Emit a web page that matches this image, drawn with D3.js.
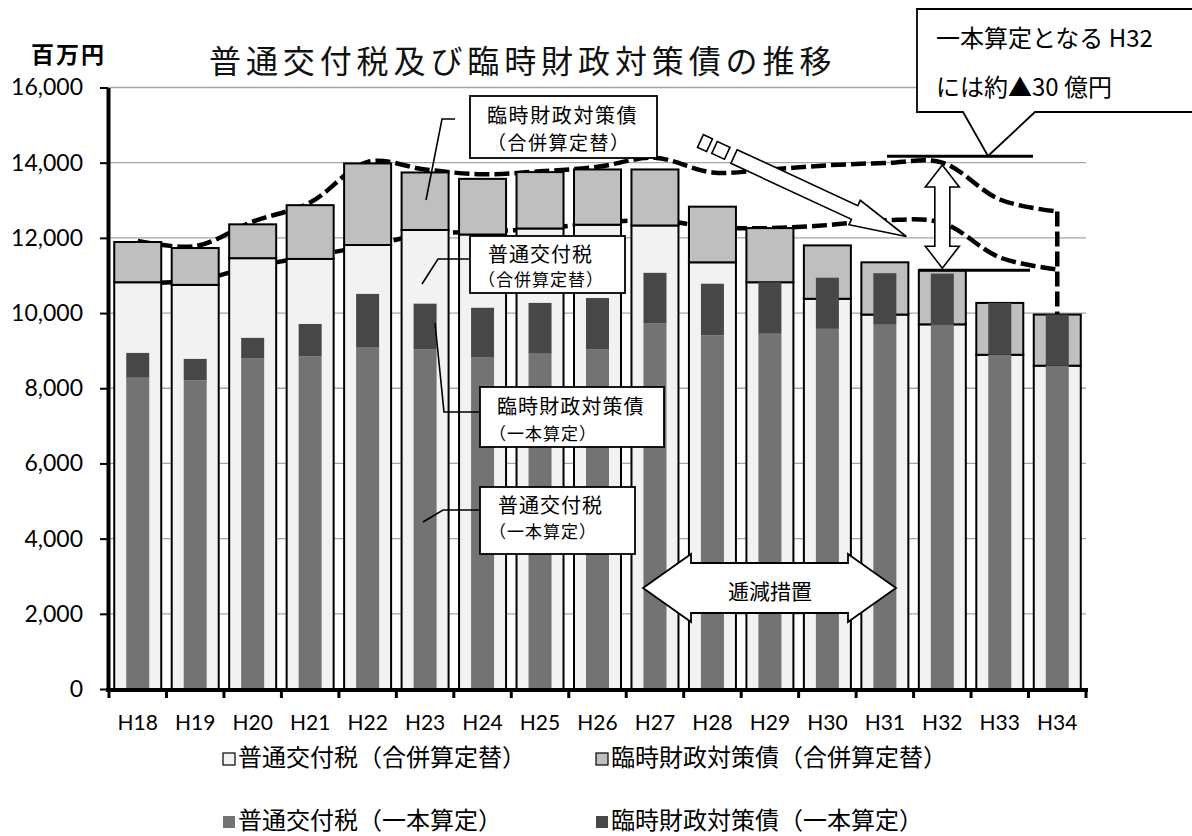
<!DOCTYPE html>
<html>
<head>
<meta charset="utf-8">
<script src="https://cdn.jsdelivr.net/npm/d3@7"></script>
<style>
  html, body { margin: 0; padding: 0; background: #fff; }
  svg { display: block; }
</style>
</head>
<body>
<svg id="chart" width="1192" height="836"></svg>
<script>
// ---- data (百万円) ----
const years = ["H18","H19","H20","H21","H22","H23","H24","H25","H26","H27","H28","H29","H30","H31","H32","H33","H34"];
// 合併算定替
const futsuGappei = [10820,10750,11460,11440,11810,12210,12090,12250,12350,12330,11350,10820,10380,9960,9700,8890,8600];
const rinjiGappei = [1070,980,900,1430,2170,1530,1480,1500,1470,1490,1480,1440,1420,1390,1440,1380,1360];
// 一本算定
const futsuIppon = [8280,8210,8790,8850,9080,9040,8830,8920,9030,9720,9410,9450,9580,9690,9700,8890,8600];
const rinjiIppon = [660,570,550,860,1430,1210,1310,1350,1370,1350,1370,1370,1360,1370,1350,1380,1360];
// trend guide lines
const upperTrend = [11920,11780,12430,12940,14020,13820,13690,13770,13890,14130,13740,13820,13930,13990,14000,13020,12700];
const lowerTrend = [10800,10870,11230,11510,11790,12090,12170,12240,12400,12470,12290,12260,12340,12470,12400,11480,11160];
const yTicks = [0,2000,4000,6000,8000,10000,12000,14000,16000];
const legendLabels = ["普通交付税（合併算定替）","臨時財政対策債（合併算定替）","普通交付税（一本算定）","臨時財政対策債（一本算定）"];
const legendColors = ["#f2f2f2","#bfbfbf","#737373","#474747"];

const titleText = "普通交付税及び臨時財政対策債の推移";
const unitText = "百万円";

const JP = "'Noto Sans CJK JP', 'Noto Sans', sans-serif";
const NUM = "Lato, 'Open Sans', sans-serif";

const svg = d3.select("#chart");

const x = d3.scaleBand().domain(years).range([109, 1086]);
const y = d3.scaleLinear().domain([0, 16000]).range([689, 87.5]);
const cx = yr => x(yr) + x.bandwidth() / 2;
const outerW = 47, innerW = 23;

// ---- gridlines ----
svg.append("g")
  .selectAll("line")
  .data(yTicks.filter(v => v > 0))
  .join("line")
  .attr("x1", 108).attr("x2", 1086)
  .attr("y1", d => y(d)).attr("y2", d => y(d))
  .attr("stroke", "#a6a6a6").attr("stroke-width", 1.3);

// ---- dashed trend lines (behind the bars) ----
const trend = d3.line()
  .x((d, i) => cx(years[i]))
  .y(d => y(d))
  .curve(d3.curveCatmullRom.alpha(0.5));
const dashStyle = sel => sel.attr("fill", "none").attr("stroke", "#000")
  .attr("stroke-width", 4.5).attr("stroke-dasharray", "15,5");
svg.append("path").datum(upperTrend).attr("d", trend).call(dashStyle);
svg.append("path").datum(lowerTrend).attr("d", trend).call(dashStyle);
const lastI = years.length - 1;
svg.append("line")
  .attr("x1", cx(years[lastI])).attr("x2", cx(years[lastI]))
  .attr("y1", y(upperTrend[lastI])).attr("y2", y(futsuGappei[lastI] + rinjiGappei[lastI]))
  .call(dashStyle);

// ---- stacked bars ----
const outerRows = years.map((yr, i) => ({ year: yr, futsu: futsuGappei[i], rinji: rinjiGappei[i] }));
const innerRows = years.map((yr, i) => ({ year: yr, futsu: futsuIppon[i], rinji: rinjiIppon[i] }));
const stack = d3.stack().keys(["futsu", "rinji"]);

const outerSeries = stack(outerRows);
svg.append("g").selectAll("g")
  .data(outerSeries)
  .join("g")
  .attr("fill", (d, i) => legendColors[i])
  .selectAll("rect")
  .data(d => d)
  .join("rect")
  .attr("x", d => cx(d.data.year) - outerW / 2)
  .attr("width", outerW)
  .attr("y", d => y(d[1]))
  .attr("height", d => y(d[0]) - y(d[1]))
  .attr("stroke", "#000").attr("stroke-width", 2);

const innerSeries = stack(innerRows);
svg.append("g").selectAll("g")
  .data(innerSeries)
  .join("g")
  .attr("fill", (d, i) => legendColors[i + 2])
  .selectAll("rect")
  .data(d => d)
  .join("rect")
  .attr("x", d => cx(d.data.year) - innerW / 2)
  .attr("width", innerW)
  .attr("y", d => y(d[1]))
  .attr("height", d => y(d[0]) - y(d[1]));

// ---- axes ----
const yAxis = svg.append("g")
  .attr("transform", "translate(108,0)")
  .call(d3.axisLeft(y).tickValues(yTicks).tickFormat(d3.format(",")).tickSize(8).tickSizeOuter(0).tickPadding(17));
yAxis.select(".domain").attr("stroke", "#000").attr("stroke-width", 4);
yAxis.selectAll(".tick line").attr("stroke", "#000").attr("stroke-width", 2);
yAxis.selectAll(".tick text").attr("font-family", NUM).attr("font-size", 23).attr("fill", "#000");

const xAxis = svg.append("g")
  .attr("transform", "translate(0,690)")
  .call(d3.axisBottom(x).tickSize(0).tickPadding(25));
xAxis.select(".domain").remove();
xAxis.selectAll(".tick text").attr("font-family", NUM).attr("font-size", 21).attr("fill", "#000");
svg.append("line").attr("x1", 106).attr("x2", 1088).attr("y1", 690).attr("y2", 690)
  .attr("stroke", "#000").attr("stroke-width", 4);
const bounds = years.map(yr => x(yr)).concat([x(years[lastI]) + x.bandwidth()]);
svg.append("g").selectAll("line").data(bounds).join("line")
  .attr("x1", d => d).attr("x2", d => d).attr("y1", 690).attr("y2", 698)
  .attr("stroke", "#000").attr("stroke-width", 3);

// ---- title & unit ----
svg.append("text").attr("x", 209).attr("y", 59).attr("dominant-baseline", "central")
  .attr("font-family", JP).attr("font-size", 32).attr("letter-spacing", 4.9)
  .attr("fill", "#111").text(titleText);
svg.append("text").attr("x", 31).attr("y", 53).attr("dominant-baseline", "central")
  .attr("font-family", JP).attr("font-size", 23).attr("font-weight", 700)
  .attr("letter-spacing", 2).attr("fill", "#000").text(unitText);

// ---- callout boxes with leader lines ----
function leader(points) {
  svg.append("path").attr("d", d3.line()(points))
    .attr("fill", "none").attr("stroke", "#000").attr("stroke-width", 1.6);
}
function box(bx, by, bw, bh, lines) {
  svg.append("rect").attr("x", bx).attr("y", by).attr("width", bw).attr("height", bh)
    .attr("fill", "#fff").attr("stroke", "#000").attr("stroke-width", 1.8);
  lines.forEach(l => {
    svg.append("text").attr("x", l.x).attr("y", l.y).attr("dominant-baseline", "central")
      .attr("font-family", JP).attr("font-size", l.size).attr("letter-spacing", l.ls)
      .attr("fill", "#000").text(l.t);
  });
}
leader([[455,119],[442,119],[426,200]]);
box(470, 96, 187, 62, [
  { t: "臨時財政対策債", x: 487, y: 114, size: 20, ls: 1.6 },
  { t: "（合併算定替）", x: 487, y: 141, size: 19, ls: 1.5 }
]);
leader([[470,259],[438,259],[422,284]]);
box(470, 236, 155, 57, [
  { t: "普通交付税", x: 488, y: 253, size: 20, ls: 1 },
  { t: "（合併算定替）", x: 478, y: 278, size: 17, ls: 1 }
]);
leader([[480,412],[444,412],[435,323]]);
box(480, 387, 184, 60, [
  { t: "臨時財政対策債", x: 497, y: 405, size: 20, ls: 1.1 },
  { t: "（一本算定）", x: 489, y: 432, size: 17, ls: 1 }
]);
leader([[480,510],[443,510],[423,522]]);
box(480, 487, 155, 67, [
  { t: "普通交付税", x: 498, y: 504, size: 20, ls: 1 },
  { t: "（一本算定）", x: 489, y: 530, size: 17, ls: 1 }
]);

// ---- 逓減措置 double arrow ----
const ax1 = 643, ax2 = 896, ah = 48, amid = 588, sh = 25, hh = 34;
svg.append("path")
  .attr("d", `M${ax1},${amid} L${ax1+ah},${amid-hh} V${amid-sh} H${ax2-ah} V${amid-hh} L${ax2},${amid} L${ax2-ah},${amid+hh} V${amid+sh} H${ax1+ah} V${amid+hh} Z`)
  .attr("fill", "#fff").attr("stroke", "#000").attr("stroke-width", 1.8);
svg.append("text").attr("x", 770).attr("y", 590).attr("text-anchor", "middle").attr("dominant-baseline", "central")
  .attr("font-family", JP).attr("font-size", 21).attr("fill", "#000").text("逓減措置");

// ---- diagonal block arrow toward H32 ----
const dg = svg.append("g").attr("transform", "translate(734,156.5) rotate(24.9)");
dg.append("path").attr("d", "M0,-7.5 H133 V-13.5 L190,0 L133,13.5 V7.5 H0 Z")
  .attr("fill", "#fff").attr("stroke", "#000").attr("stroke-width", 1.6);
dg.append("rect").attr("x", -21.5).attr("y", -6.5).attr("width", 14).attr("height", 13)
  .attr("fill", "#fff").attr("stroke", "#000").attr("stroke-width", 1.6);
dg.append("rect").attr("x", -37).attr("y", -7).attr("width", 10).attr("height", 14)
  .attr("fill", "#fff").attr("stroke", "#000").attr("stroke-width", 1.6);

// ---- H32 gap marker ----
const i32 = years.indexOf("H32");
const x32 = cx("H32");
const top32 = futsuGappei[i32] + rinjiGappei[i32];
svg.append("line").attr("x1", 887).attr("x2", 1033).attr("y1", y(14170)).attr("y2", y(14170))
  .attr("stroke", "#000").attr("stroke-width", 3);
svg.append("line").attr("x1", x32 - outerW / 2).attr("x2", 1030).attr("y1", y(top32)).attr("y2", y(top32))
  .attr("stroke", "#000").attr("stroke-width", 3);
const vy1 = 165, vy2 = y(top32) - 2, vh = 22, vhw = 17, vsw = 7.5;
svg.append("path")
  .attr("d", `M${x32},${vy1} L${x32+vhw},${vy1+vh} H${x32+vsw} V${vy2-vh} H${x32+vhw} L${x32},${vy2} L${x32-vhw},${vy2-vh} H${x32-vsw} V${vy1+vh} H${x32-vhw} Z`)
  .attr("fill", "#fff").attr("stroke", "#000").attr("stroke-width", 1.6);

// callout at top right
svg.append("path")
  .attr("d", "M917,9 H1196 V112 H1035 L988,156 L963,112 H917 Z")
  .attr("fill", "#fff").attr("stroke", "#000").attr("stroke-width", 1.8);
svg.append("text").attr("x", 936).attr("y", 36).attr("dominant-baseline", "central")
  .attr("font-family", JP).attr("font-size", 24).attr("fill", "#000").text("一本算定となる H32");
svg.append("text").attr("x", 936).attr("y", 85).attr("dominant-baseline", "central")
  .attr("font-family", JP).attr("font-size", 24).attr("fill", "#000").text("には約▲30 億円");

// ---- legend ----
const legendPos = [[223, 755], [596, 755], [223, 818], [596, 818]];
const lg = svg.append("g").selectAll("g").data(legendLabels).join("g")
  .attr("transform", (d, i) => `translate(${legendPos[i][0]},${legendPos[i][1]})`);
lg.append("rect").attr("x", 0).attr("y", -2).attr("width", 12).attr("height", 12)
  .attr("fill", (d, i) => legendColors[i])
  .attr("stroke", (d, i) => i < 2 ? "#000" : "none").attr("stroke-width", 1.2);
lg.append("text").attr("x", 15).attr("y", 0).attr("dominant-baseline", "central")
  .attr("font-family", JP).attr("font-size", 24).attr("fill", "#000").text(d => d);
</script>
</body>
</html>
